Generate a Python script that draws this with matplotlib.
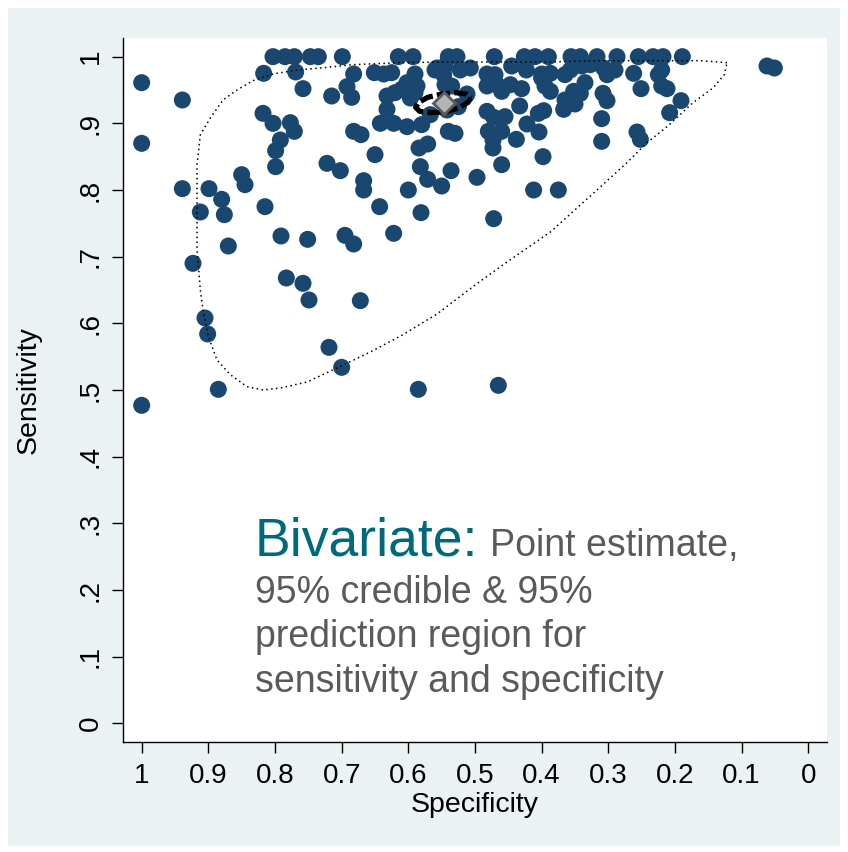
import matplotlib
matplotlib.use("Agg")
import matplotlib.pyplot as plt
from matplotlib.patches import Rectangle
import numpy as np

plt.rcParams['font.family'] = ['Liberation Sans', 'DejaVu Sans']

# study points (specificity, sensitivity)
spec = [
    0.803, 0.785, 0.771, 0.747, 0.735, 0.699, 0.615, 0.593, 0.540, 0.527, 0.471,
    0.426, 0.410, 0.390, 0.356, 0.342, 0.317, 0.287, 0.255, 0.233, 0.218, 0.189,
    0.062, 0.051,
    1.000, 1.000, 1.000, 0.939, 0.939, 0.899, 0.880, 0.912, 0.876, 0.870, 0.923,
    0.905, 0.901, 0.885,
    0.817, 0.769, 0.758, 0.682, 0.715, 0.692, 0.685, 0.651, 0.637, 0.625, 0.590,
    0.602, 0.632, 0.632, 0.642, 0.622, 0.602, 0.580, 0.590, 0.557, 0.547, 0.522,
    0.507, 0.540, 0.530, 0.512, 0.525, 0.818, 0.803, 0.777, 0.771, 0.792, 0.799,
    0.799, 0.682, 0.671, 0.650, 0.722, 0.702, 0.667, 0.667, 0.643, 0.600, 0.584,
    0.571, 0.582, 0.571, 0.550, 0.536, 0.497, 0.581, 0.850, 0.845, 0.815,
    0.791, 0.751, 0.695, 0.682, 0.622, 0.783, 0.758, 0.749, 0.672, 0.719, 0.700,
    0.585, 0.465,
    0.460, 0.412, 0.375, 0.472,
    0.445, 0.423, 0.482, 0.470, 0.400, 0.387, 0.365, 0.357, 0.340, 0.327, 0.307,
    0.290, 0.302, 0.262, 0.220, 0.225, 0.482, 0.467, 0.447, 0.430, 0.460, 0.400,
    0.395, 0.387, 0.335, 0.352, 0.342, 0.251, 0.220, 0.212, 0.308, 0.302, 0.365,
    0.350, 0.367, 0.433, 0.405, 0.397, 0.482, 0.472, 0.455, 0.422, 0.310, 0.208,
    0.191, 0.257, 0.252, 0.310, 0.480, 0.460, 0.473, 0.473, 0.438, 0.404, 0.398,
    0.560, 0.545, 0.587, 0.545, 0.535, 0.620, 0.610, 0.597, 0.567, 0.542,
]
sens = [
    1.0, 1.0, 1.0, 1.0, 1.0, 1.0, 1.0, 1.0, 1.0, 1.0, 1.0,
    1.0, 1.0, 1.0, 1.0, 1.0, 1.0, 1.0, 1.0, 1.0, 1.0, 1.0,
    0.986, 0.983,
    0.961, 0.870, 0.477, 0.935, 0.802, 0.802, 0.786, 0.767, 0.763, 0.716, 0.690,
    0.608, 0.584, 0.501,
    0.975, 0.977, 0.952, 0.974, 0.941, 0.955, 0.939, 0.976, 0.974, 0.976, 0.974,
    0.961, 0.941, 0.921, 0.900, 0.900, 0.895, 0.898, 0.946, 0.983, 0.973, 0.980,
    0.983, 0.888, 0.885, 0.944, 0.925, 0.915, 0.900, 0.901, 0.888, 0.875, 0.859,
    0.835, 0.888, 0.883, 0.853, 0.840, 0.829, 0.814, 0.800, 0.775, 0.800, 0.863,
    0.869, 0.835, 0.816, 0.806, 0.829, 0.819, 0.766, 0.823, 0.808, 0.775,
    0.731, 0.726, 0.732, 0.719, 0.735, 0.668, 0.660, 0.635, 0.634, 0.564, 0.534,
    0.501, 0.507,
    0.838, 0.800, 0.800, 0.757,
    0.986, 0.980, 0.974, 0.973, 0.974, 0.975, 0.973, 0.980, 0.986, 0.988, 0.983,
    0.980, 0.973, 0.975, 0.980, 0.973, 0.956, 0.958, 0.958, 0.952, 0.948, 0.968,
    0.956, 0.948, 0.961, 0.948, 0.945, 0.952, 0.956, 0.952, 0.945, 0.934, 0.935,
    0.929, 0.921, 0.926, 0.915, 0.919, 0.918, 0.909, 0.910, 0.899, 0.907, 0.916,
    0.934, 0.887, 0.876, 0.873, 0.888, 0.888, 0.875, 0.863, 0.876, 0.887, 0.850,
    0.980, 0.986, 0.956, 0.958, 0.956, 0.946, 0.951, 0.938, 0.913, 0.920,
]

# 95% prediction region outline
pred_spec = [0.122, 0.162, 0.237, 0.312, 0.387, 0.462, 0.537, 0.612, 0.683, 0.732,
             0.767, 0.803, 0.833, 0.857, 0.878, 0.897, 0.912, 0.917, 0.917, 0.917,
             0.912, 0.908, 0.900, 0.887, 0.867, 0.842, 0.818, 0.792, 0.752, 0.707,
             0.657, 0.608, 0.557, 0.495, 0.462, 0.387, 0.317, 0.272, 0.242, 0.212,
             0.173, 0.143, 0.126, 0.122]
pred_sens = [0.991, 0.994, 0.994, 0.994, 0.992, 0.992, 0.992, 0.991, 0.988, 0.983,
             0.980, 0.974, 0.964, 0.950, 0.935, 0.908, 0.883, 0.838, 0.785, 0.710,
             0.650, 0.620, 0.580, 0.545, 0.523, 0.505, 0.500, 0.503, 0.512, 0.533,
             0.557, 0.583, 0.614, 0.661, 0.685, 0.737, 0.800, 0.841, 0.871, 0.895,
             0.931, 0.953, 0.973, 0.991]

# 95% credible region outline
cred_spec = [0.506, 0.511, 0.525, 0.545, 0.566, 0.583, 0.589, 0.585, 0.571, 0.550,
             0.529, 0.513, 0.506]
cred_sens = [0.938, 0.931, 0.923, 0.917, 0.916, 0.918, 0.924, 0.931, 0.939, 0.944,
             0.946, 0.944, 0.938]

# summary point estimate
est_spec = 0.547
est_sens = 0.931

x_ticks = [1, 0.9, 0.8, 0.7, 0.6, 0.5, 0.4, 0.3, 0.2, 0.1, 0]
x_labels = ["1", "0.9", "0.8", "0.7", "0.6", "0.5", "0.4", "0.3", "0.2", "0.1", "0"]
y_ticks = [0, 0.1, 0.2, 0.3, 0.4, 0.5, 0.6, 0.7, 0.8, 0.9, 1]
y_labels = ["0", ".1", ".2", ".3", ".4", ".5", ".6", ".7", ".8", ".9", "1"]

bg = "#eaf2f3"
navy = "#1a476f"

fig = plt.figure(figsize=(8.48, 8.52), dpi=100, facecolor="white")
fig.patches.append(Rectangle((8 / 848, 6 / 852), 832 / 848, 838 / 852,
                             transform=fig.transFigure, facecolor=bg,
                             edgecolor="none", zorder=-10))
ax = fig.add_axes([123 / 848, 1 - 742 / 852, 704 / 848, 704 / 852])
ax.set_facecolor("white")

ax.scatter(spec, sens, s=150, color=navy, edgecolors="none", zorder=2)
ax.plot(pred_spec, pred_sens, color="black", linestyle=(0, (1, 2.2)),
        linewidth=1.1, zorder=3)
ax.plot(cred_spec, cred_sens, color="black", linestyle=(0, (2.5, 0.8)),
        linewidth=3.8, zorder=4)
ax.plot([est_spec], [est_sens], marker="D", markersize=11,
        markerfacecolor="#b4b4b4", markeredgecolor="#5a5a5a",
        markeredgewidth=2, linestyle="none", zorder=5)

ax.set_xlim(1.028, -0.028)
ax.set_ylim(-0.028, 1.028)
ax.set_xticks(x_ticks)
ax.set_xticklabels(x_labels)
ax.set_yticks(y_ticks)
ax.set_yticklabels(y_labels, rotation=90, va="center")
ax.tick_params(axis="both", length=8, width=1, labelsize=20, colors="black")
ax.tick_params(axis="x", pad=7)
ax.tick_params(axis="y", pad=6)
for side in ["top", "right"]:
    ax.spines[side].set_visible(False)
for side in ["left", "bottom"]:
    ax.spines[side].set_linewidth(1)

ax.set_xlabel("Specificity", fontsize=20.5, labelpad=2)
ax.set_ylabel("Sensitivity", fontsize=20.5, labelpad=26)

t1 = ax.text(0.830, 0.251, "Bivariate:", fontsize=38.5, color="#006a7a",
             va="baseline", ha="left")
fig.canvas.draw()
bb = t1.get_window_extent()
x_end = ax.transData.inverted().transform((bb.x1 + 12, bb.y0))[0]
ax.text(x_end, 0.251, "Point estimate,", fontsize=27, color="#5a5a5a",
        va="baseline", ha="left")
for txt, yy in [("95% credible & 95%", 0.180),
                ("prediction region for", 0.114),
                ("sensitivity and specificity", 0.0465)]:
    ax.text(0.830, yy, txt, fontsize=27, color="#5a5a5a",
            va="baseline", ha="left")

plt.savefig("out.png", dpi=100, facecolor=fig.get_facecolor())
